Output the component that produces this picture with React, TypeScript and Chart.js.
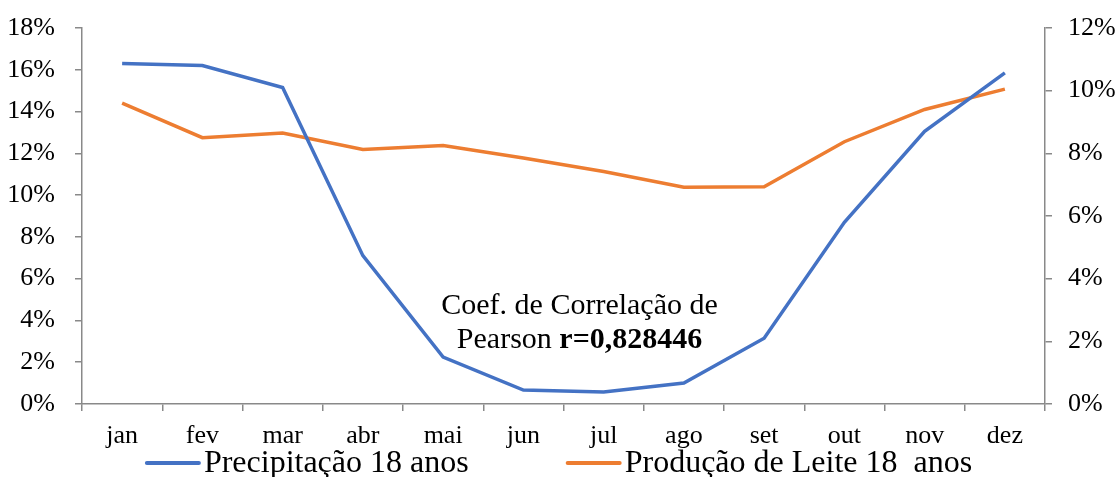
import React, { useEffect, useRef } from "react";
import { Chart, registerables } from "chart.js";

Chart.register(...registerables);

const months = ["jan", "fev", "mar", "abr", "mai", "jun", "jul", "ago", "set", "out", "nov", "dez"];
const precipitacao = [16.3, 16.2, 15.15, 7.1, 2.25, 0.67, 0.58, 1.0, 3.15, 8.7, 13.05, 15.85];
const producaoLeite = [9.6, 8.5, 8.65, 8.12, 8.25, 7.85, 7.42, 6.92, 6.93, 8.37, 9.4, 10.05];
const seriesNames = ["Precipitação 18 anos", "Produção de Leite 18  anos"];
const seriesColors = ["#4472C4", "#ED7D31"];
const leftAxisMax = 18;
const rightAxisMax = 12;
const axisStep = 2;
const annotationLine1 = "Coef. de Correlação de";
const annotationLine2Normal = "Pearson ";
const annotationLine2Bold = "r=0,828446";

const FONT = "'Liberation Serif', 'Times New Roman', serif";
const AXIS_COLOR = "#898989";

const legendPlugin = {
  id: "customLegend",
  afterDraw(chart: any) {
    const ctx = chart.ctx;
    ctx.save();
    ctx.font = `32px ${FONT}`;
    const lineW = 52;
    const gapText = 5;
    const gapItems = 99;
    const widths = chart.data.datasets.map((d: any) => lineW + gapText + ctx.measureText(d.label).width);
    const total = widths.reduce((a: number, b: number) => a + b, 0) + gapItems * (widths.length - 1);
    let x = (chart.width - total) / 2 + 2;
    const yLine = 463;
    const yText = 472;
    chart.data.datasets.forEach((d: any, i: number) => {
      ctx.strokeStyle = d.borderColor;
      ctx.lineWidth = 4;
      ctx.lineCap = "round";
      ctx.beginPath();
      ctx.moveTo(x, yLine);
      ctx.lineTo(x + lineW, yLine);
      ctx.stroke();
      ctx.fillStyle = "#000";
      ctx.textBaseline = "alphabetic";
      ctx.textAlign = "left";
      ctx.fillText(d.label, x + lineW + gapText, yText);
      x += widths[i] + gapItems;
    });
    ctx.restore();
  },
};

const annotationPlugin = {
  id: "pearsonAnnotation",
  afterDraw(chart: any) {
    const ctx = chart.ctx;
    const xs = chart.scales.x;
    const p5 = xs.getPixelForValue(5);
    const p6 = xs.getPixelForValue(6);
    const cx = p5 + 0.7 * (p6 - p5);
    ctx.save();
    ctx.fillStyle = "#000";
    ctx.textBaseline = "alphabetic";
    ctx.font = `30px ${FONT}`;
    ctx.textAlign = "center";
    ctx.fillText(annotationLine1, cx, 314);
    const wN = ctx.measureText(annotationLine2Normal).width;
    ctx.font = `bold 30px ${FONT}`;
    const wB = ctx.measureText(annotationLine2Bold).width;
    const start = cx - (wN + wB) / 2;
    ctx.textAlign = "left";
    ctx.font = `30px ${FONT}`;
    ctx.fillText(annotationLine2Normal, start, 348);
    ctx.font = `bold 30px ${FONT}`;
    ctx.fillText(annotationLine2Bold, start + wN, 348);
    ctx.restore();
  },
};

export default function App() {
  const canvasRef = useRef<HTMLCanvasElement | null>(null);

  useEffect(() => {
    document.body.style.margin = "0";
    const canvas = canvasRef.current;
    if (!canvas) return;
    const tickFont = { family: FONT, size: 26 };
    const chart = new Chart(canvas, {
      type: "line",
      data: {
        labels: months,
        datasets: [
          {
            label: seriesNames[0],
            data: precipitacao,
            borderColor: seriesColors[0],
            backgroundColor: seriesColors[0],
            borderWidth: 3.5,
            pointRadius: 0,
            tension: 0,
            yAxisID: "y",
          },
          {
            label: seriesNames[1],
            data: producaoLeite,
            borderColor: seriesColors[1],
            backgroundColor: seriesColors[1],
            borderWidth: 3.5,
            pointRadius: 0,
            tension: 0,
            yAxisID: "y1",
          },
        ],
      },
      options: {
        responsive: false,
        animation: false,
        layout: { padding: { top: 28, left: 0, right: 0, bottom: 0 } },
        plugins: {
          legend: { display: false },
          tooltip: { enabled: false },
        },
        scales: {
          x: {
            type: "category",
            offset: true,
            grid: {
              display: true,
              drawOnChartArea: false,
              offset: true,
              tickLength: 7,
              color: AXIS_COLOR,
              lineWidth: 1.5,
            },
            border: { color: AXIS_COLOR, width: 1.5 },
            ticks: { font: tickFont, color: "#000", padding: 10, maxRotation: 0, autoSkip: false },
            afterFit: (s: any) => {
              s.height = 73;
              s.paddingLeft = 0;
              s.paddingRight = 0;
            },
          },
          y: {
            position: "left",
            min: 0,
            max: leftAxisMax,
            grid: { drawOnChartArea: false, tickLength: 7, color: AXIS_COLOR, lineWidth: 1.5 },
            border: { color: AXIS_COLOR, width: 1.5 },
            ticks: {
              stepSize: axisStep,
              font: tickFont,
              color: "#000",
              padding: 20,
              callback: (v: any) => `${v}%`,
            },
            afterFit: (s: any) => {
              s.width = 82;
              s.paddingTop = 0;
              s.paddingBottom = 0;
            },
          },
          y1: {
            position: "right",
            min: 0,
            max: rightAxisMax,
            grid: { drawOnChartArea: false, tickLength: 7, color: AXIS_COLOR, lineWidth: 1.5 },
            border: { color: AXIS_COLOR, width: 1.5 },
            ticks: {
              stepSize: axisStep,
              font: tickFont,
              color: "#000",
              padding: 16,
              callback: (v: any) => `${v}%`,
            },
            afterFit: (s: any) => {
              s.width = 70;
              s.paddingTop = 0;
              s.paddingBottom = 0;
            },
          },
        },
      },
      plugins: [legendPlugin, annotationPlugin],
    });
    return () => chart.destroy();
  }, []);

  return (
    <div style={{ width: 1115, height: 477, background: "#fff" }}>
      <canvas ref={canvasRef} width={1115} height={477} />
    </div>
  );
}
